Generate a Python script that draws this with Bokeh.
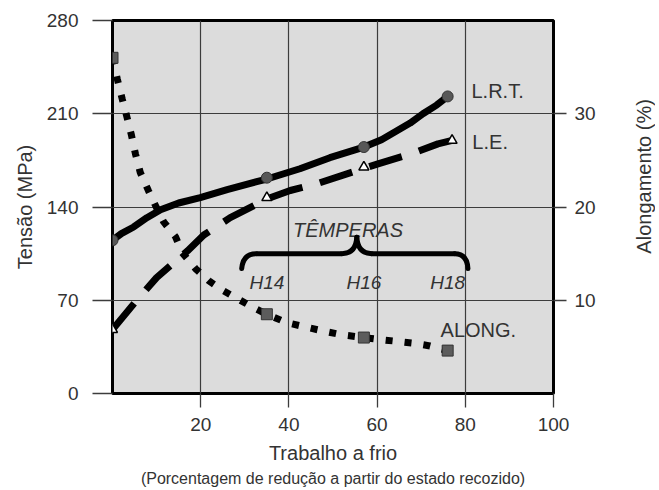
import math
from bokeh.plotting import figure
from bokeh.layouts import row
from bokeh.models import Range1d, LinearAxis, FixedTicker, Title, Grid
from bokeh.core.properties import value
from bokeh.embed import file_html
from bokeh.resources import INLINE

# ---------------- data ----------------
# Marked tempers (cold work %) and measured values
lrt_mark_x = [0, 35, 57, 76]
lrt_mark_y = [115, 162, 185, 223]          # MPa
le_mark_x = [0, 35, 57, 77]
le_mark_y = [48, 147, 170, 190]            # MPa
along_mark_x = [0, 35, 57, 76]
along_mark_y = [36.0, 8.5, 6.0, 4.6]       # %

# Curves
lrt_curve_x = [0, 2, 4.8, 7.8, 10.9, 15, 19.9, 26, 32.7, 35, 42.5, 49.3, 57, 61, 64.4, 67.5, 70.4, 73.5, 76]
lrt_curve_y = [115, 120, 125, 132, 138, 143, 147, 153, 159, 161, 168.7, 177, 185, 190.5, 197, 203, 210, 216.5, 223]

le_curve_x = [0, 5, 10, 17, 20.7, 26.7, 35, 40.3, 46.3, 54.2, 57, 60.2, 67.8, 73.8, 77]
le_curve_y = [48, 68, 87, 107, 119, 132, 146, 152.4, 157.4, 166, 169, 172.4, 180, 187.4, 190]

along_curve_x = [0, 1.1, 2.2, 3.3, 4.3, 5.2, 6.3, 8.2, 10.1, 11.6, 14.3, 15.8, 18.8, 21.8,
                 25.2, 28.6, 32.4, 35, 39.5, 44, 47.8, 52, 57, 60.3, 64.4, 68.2, 72, 76]
along_curve_y = [36.0, 33.7, 31.6, 29.6, 27.7, 25.7, 23.7, 21.7, 19.8, 18.4, 16.8, 15.1, 13.4, 12.1,
                 11.0, 10.1, 9.1, 8.5, 7.6, 7.1, 6.7, 6.3, 6.0, 5.8, 5.6, 5.4, 5.1, 4.6]

temper_labels = ["H14", "H16", "H18"]
temper_x = [35, 57, 76]

left_ticks = [0, 70, 140, 210, 280]
right_ticks = [10, 20, 30]
bottom_ticks = [20, 40, 60, 80, 100]

# ---------------- figure ----------------
FONT = "Liberation Sans"
TXT = "#333333"
GRID = "#3c3c3c"

p = figure(
    frame_width=441, frame_height=373,
    x_range=Range1d(0, 100), y_range=Range1d(0, 280),
    output_backend="svg", toolbar_location=None,
    min_border_left=112, min_border_top=20, min_border_right=50, min_border_bottom=10,
    background_fill_color="#dcdcdc", border_fill_color="white",
    x_axis_type=None, y_axis_type=None,
)
p.align = "start"
p.extra_y_ranges = {"pct": Range1d(0, 40)}
p.outline_line_color = "black"
p.outline_line_width = 3

# axes
xaxis = LinearAxis(ticker=FixedTicker(ticks=bottom_ticks), axis_label="Trabalho a frio")
yaxis = LinearAxis(ticker=FixedTicker(ticks=left_ticks), axis_label="Tensão (MPa)")
raxis = LinearAxis(ticker=FixedTicker(ticks=right_ticks), y_range_name="pct")
for ax in (xaxis, yaxis, raxis):
    ax.axis_line_color = None
    ax.major_tick_line_color = GRID
    ax.major_tick_line_width = 1.3
    ax.major_tick_in = 0
    ax.minor_tick_line_color = None
    ax.major_label_text_font = FONT
    ax.major_label_text_font_size = "19px"
    ax.major_label_text_color = TXT
    ax.axis_label_text_font = FONT
    ax.axis_label_text_font_size = "20px"
    ax.axis_label_text_font_style = "normal"
    ax.axis_label_text_color = TXT
xaxis.major_tick_out = 14
xaxis.major_label_standoff = 10
xaxis.axis_label_standoff = 8
yaxis.major_tick_out = 20
yaxis.major_label_standoff = 14
yaxis.axis_label_standoff = 8
raxis.major_tick_out = 13
raxis.major_label_standoff = 8

p.add_layout(xaxis, "below")
p.add_layout(yaxis, "left")
p.add_layout(raxis, "right")

sub = Title(text="(Porcentagem de redução a partir do estado recozido)", align="center",
            text_font=FONT, text_font_size="16px", text_font_style="normal",
            text_color=TXT, standoff=2)
p.add_layout(sub, "below")

# grid
p.add_layout(Grid(dimension=0, ticker=FixedTicker(ticks=[20, 40, 60, 80]),
                  grid_line_color=GRID, grid_line_width=1.2))
p.add_layout(Grid(dimension=1, ticker=FixedTicker(ticks=[70, 140, 210]),
                  grid_line_color=GRID, grid_line_width=1.2))

# curves
p.line(lrt_curve_x, lrt_curve_y, line_color="black", line_width=7, line_cap="round",
       line_join="round")
p.line(le_curve_x, le_curve_y, line_color="black", line_width=7, line_dash="34 18",
       line_cap="butt", line_join="round")
p.line(along_curve_x, along_curve_y, y_range_name="pct", line_color="black", line_width=7,
       line_dash="7 12", line_cap="butt")

# markers
p.scatter(lrt_mark_x, lrt_mark_y, marker="circle", size=11, fill_color="#575757",
          line_color="#333333", line_width=1)
p.scatter(along_mark_x, along_mark_y, y_range_name="pct", marker="square", size=11,
          fill_color="#5c5c5c", line_color="#333333", line_width=1)
p.scatter(le_mark_x, le_mark_y, marker="triangle", size=10, fill_color="white",
          line_color="black", line_width=1.5)

# curve labels
p.text(x=[81.4], y=[227], text=["L.R.T."], text_font=value(FONT), text_font_size="20px",
       text_color=TXT, text_baseline="middle", text_align="left")
p.text(x=[81.6], y=[189], text=["L.E."], text_font=value(FONT), text_font_size="20px",
       text_color=TXT, text_baseline="middle", text_align="left")
p.text(x=[74.4], y=[47.5], text=["ALONG."], text_font=value(FONT), text_font_size="20px",
       text_color=TXT, text_baseline="middle", text_align="left")

# tempers brace and labels
p.text(x=[53.4], y=[122.4], text=["TÊMPERAS"], text_font=value(FONT), text_font_size="20px",
       text_font_style="italic", text_color=TXT, text_baseline="middle", text_align="center")
p.quadratic(x0=[29.3, 52.0, 55.4, 58.8, 77.6], y0=[93.8, 105, 117.3, 105, 105],
            x1=[32.6, 55.4, 58.8, 77.6, 80.6], y1=[105, 117.3, 105, 105, 93.8],
            cx=[29.6, 55.2, 55.6, 68.0, 80.4], cy=[105, 105, 105, 105, 105],
            line_color="black", line_width=5, line_cap="round")
p.segment(x0=[32.6], y0=[105], x1=[52.0], y1=[105], line_color="black", line_width=5)
p.text(x=temper_x, y=[83, 83, 83], text=temper_labels, text_font=value(FONT),
       text_font_size="19px", text_font_style="italic", text_color=TXT,
       text_baseline="middle", text_align="center")

# ---------------- right-hand axis title (reads bottom to top) ----------------
q = figure(
    width=52, height=400, x_range=Range1d(0, 52), y_range=Range1d(400, 0),
    output_backend="svg", toolbar_location=None,
    min_border_left=0, min_border_right=0, min_border_top=0, min_border_bottom=0,
    x_axis_type=None, y_axis_type=None,
    background_fill_color="white", border_fill_color="white",
)
q.align = "start"
q.outline_line_color = None
q.grid.visible = False
q.text(x=[40], y=[218], text=["Alongamento (%)"], angle=math.pi / 2,
       text_font=value(FONT), text_font_size="20px", text_color=TXT,
       text_align="center", text_baseline="middle")

layout = row(p, q)
open("out.html", "w").write(file_html(layout, INLINE))
